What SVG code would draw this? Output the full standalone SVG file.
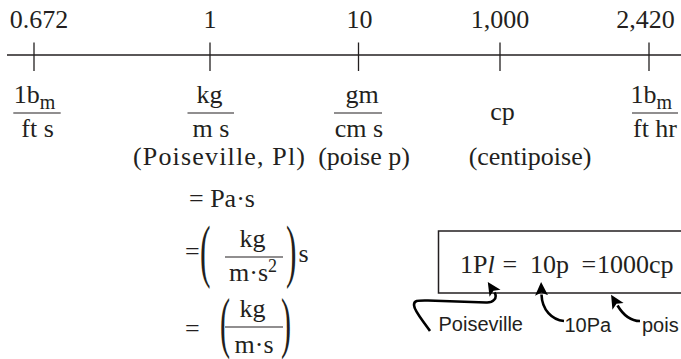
<svg xmlns="http://www.w3.org/2000/svg" width="681" height="359" viewBox="0 0 681 359">
<style>
.s{font-family:"Liberation Serif","Times New Roman",serif;font-size:26px;fill:#231f20}
.sub{font-size:20px}
.p{font-size:70px}
.a{font-family:"Liberation Sans",Arial,sans-serif;font-size:20px;fill:#231f20}
.ln{stroke:#231f20;stroke-width:1.3;fill:none}
.bar{stroke:#231f20;stroke-width:1.2}
.arr{stroke:#000;stroke-width:2.6;fill:none;marker-end:url(#ah)}
</style>
<defs>
<marker id="ah" markerUnits="userSpaceOnUse" viewBox="0 0 14 14" markerWidth="14" markerHeight="14" refX="1" refY="7" orient="auto">
<path d="M0,0.5 L13.5,7 L0,13.5 L3,7 z" fill="#000"/>
</marker>
</defs>
<rect width="681" height="359" fill="#fff"/>
<g id="axis">
<line class="ln" x1="7" y1="55" x2="681" y2="55"/>
<line class="ln" x1="34" y1="42.5" x2="34" y2="71"/>
<line class="ln" x1="210" y1="42.5" x2="210" y2="71"/>
<line class="ln" x1="358.5" y1="42.5" x2="358.5" y2="71"/>
<line class="ln" x1="500" y1="42.5" x2="500" y2="71"/>
<line class="ln" x1="649" y1="42.5" x2="649" y2="71"/>
</g>
<g id="values" class="s" text-anchor="middle">
<text x="39" y="28">0.672</text>
<text x="210" y="28">1</text>
<text x="359.5" y="28">10</text>
<text x="500" y="28">1,000</text>
<text x="645.5" y="28">2,420</text>
</g>
<g id="unit-lbm-fts" class="s">
<text x="13.8" y="103">1b<tspan class="sub" dy="5.5">m</tspan></text>
<line class="bar" x1="13.3" y1="113" x2="60.7" y2="113"/>
<text x="37.5" y="137" text-anchor="middle">ft s</text>
</g>
<g id="unit-kg-ms" class="s">
<text x="209.5" y="103" text-anchor="middle">kg</text>
<line class="bar" x1="187.5" y1="113" x2="234" y2="113"/>
<text x="211" y="137" text-anchor="middle">m s</text>
<text x="133" y="165" textLength="172" lengthAdjust="spacing">(Poiseville, Pl)</text>
</g>
<g id="unit-gm-cms" class="s" text-anchor="middle">
<text x="362" y="103">gm</text>
<line class="bar" x1="334" y1="113" x2="382" y2="113"/>
<text x="359" y="137">cm s</text>
<text x="364" y="165">(poise p)</text>
</g>
<g id="unit-cp" class="s" text-anchor="middle">
<text x="502.5" y="120">cp</text>
<text x="530" y="165">(centipoise)</text>
</g>
<g id="unit-lbm-fthr" class="s">
<text x="630.4" y="103">1b<tspan class="sub" dy="5.5">m</tspan></text>
<line class="bar" x1="632" y1="113" x2="678" y2="113"/>
<text x="655" y="137" text-anchor="middle">ft hr</text>
</g>
<g id="equalities" class="s">
<text x="189" y="207">= Pa·s</text>
<text x="185" y="260">=</text>
<text class="p" transform="translate(200,274) scale(0.45,1)">(</text>
<text x="252.5" y="247" text-anchor="middle">kg</text>
<line class="bar" x1="225" y1="257" x2="283" y2="257"/>
<text x="229" y="281">m·s<tspan font-size="18" dy="-9">2</tspan></text>
<text class="p" transform="translate(286,274) scale(0.45,1)">)</text>
<text x="298.5" y="262">s</text>
<text x="185" y="336.5">=</text>
<text class="p" style="font-size:67px" transform="translate(220,345) scale(0.45,1)">(</text>
<text x="252.5" y="317" text-anchor="middle">kg</text>
<line class="bar" x1="225" y1="327" x2="283" y2="327"/>
<text x="254" y="353" text-anchor="middle">m·s</text>
<text class="p" style="font-size:67px" transform="translate(281,345) scale(0.45,1)">)</text>
</g>
<g id="equation-box">
<rect x="438.5" y="231" width="260" height="62" fill="none" stroke="#231f20" stroke-width="1.5"/>
<text class="s" y="273"><tspan x="460">1P</tspan><tspan font-style="italic">l</tspan><tspan x="502.5">=</tspan><tspan x="530">10p</tspan><tspan x="581.5">=</tspan><tspan x="597">1000cp</tspan></text>
</g>
<g id="label-poiseville"><text class="a" x="438.5" y="331">Poiseville</text></g>
<g id="label-10pa"><text class="a" x="564.5" y="331.5">10Pa</text></g>
<g id="label-pois"><text class="a" x="642" y="331.5">pois</text></g>
<g id="connectors">
<path class="arr" d="M430,331 C424,322 414,311 414,305 C414,300 418,300.5 428,300.5 L486,302.5 C493,303 498,298 494.5,292.5"/>
<path class="arr" d="M564,321 C552,320 542,310 541.5,294.5"/>
<path class="arr" d="M640,321 C630,321 622,313 617.5,305.5"/>
</g>
</svg>
